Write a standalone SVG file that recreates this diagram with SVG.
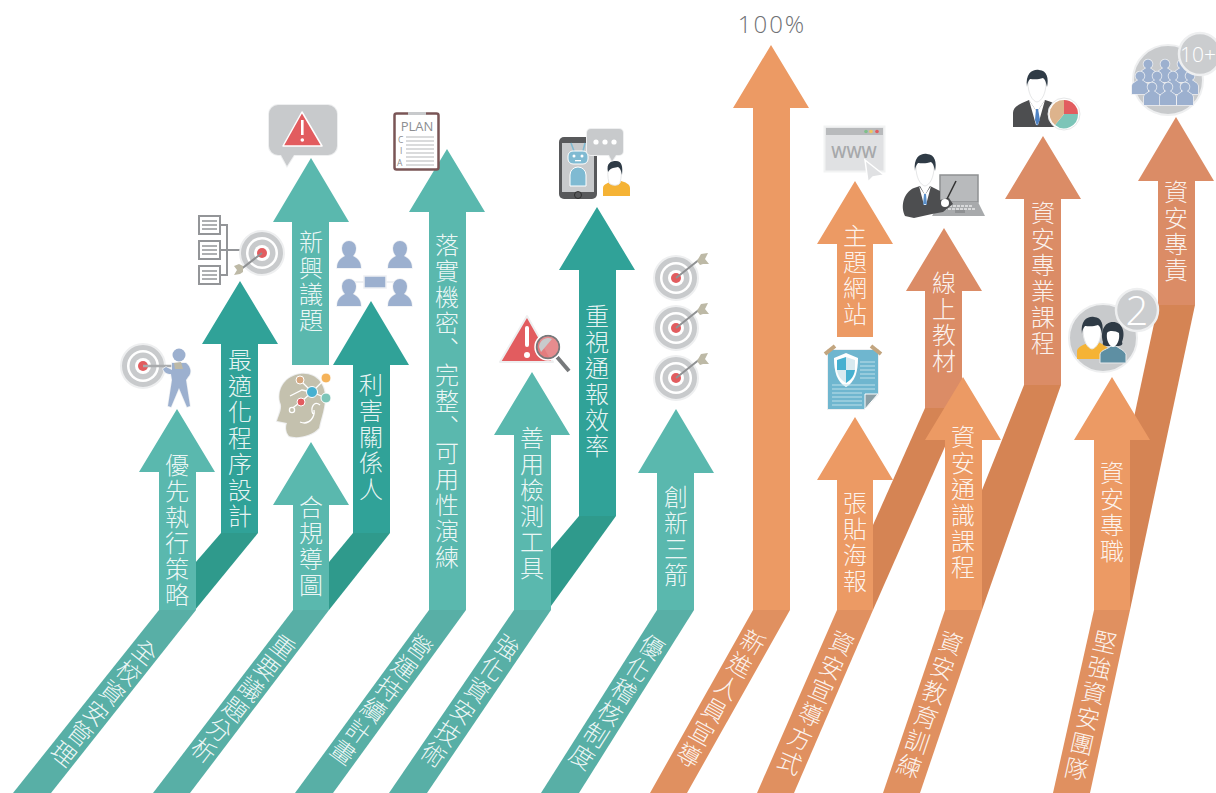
<svg xmlns="http://www.w3.org/2000/svg" width="1216" height="793" viewBox="0 0 1216 793">
<style>
.lab{font-family:"Noto Sans CJK TC","Noto Sans CJK JP",sans-serif;font-size:24px;font-weight:300;fill:#fff;fill-opacity:.9;writing-mode:vertical-rl;letter-spacing:2px}
.jp{font-family:"Noto Sans CJK JP",sans-serif}
.tl{fill:#5AB8AE}.td{fill:#30A298}.tdd{fill:#2F9A8C}.ts{fill:#58AFA6}
.ol{fill:#EC9A64}.od{fill:#DB8C66}.odd{fill:#D58454}.os{fill:#E09060}
.blue{fill:#9CB0CF;stroke:#EEF0F3;stroke-width:1.5;paint-order:stroke}
.halo{stroke:#EEEFF0;stroke-width:2;paint-order:stroke}
.badge{fill:#CBCDCF;stroke:#EEEFF0;stroke-width:2.5}
.bn{font-family:"Open Sans",sans-serif;font-weight:300;fill:#fff}
.ln{stroke:#939598;stroke-width:2;fill:none}
.gt{font-family:"Open Sans",sans-serif;fill:#8C8E91}
</style>
<defs>
<g id="t"><circle r="22" fill="#C8CACC" stroke="#EEEFF0" stroke-width="2"/><circle r="16" fill="#fff"/><circle r="13.5" fill="#C8CACC"/><circle r="8" fill="#fff"/><circle r="5" fill="#E25C5F"/></g>
<g id="dart"><line x1="0" y1="0" x2="24" y2="-19" stroke="#8F9193" stroke-width="2"/><polygon points="21,-17 25,-24 32,-25 29,-19 33,-14 27,-14 24,-13" fill="#BDB9A6"/></g>
<path id="p" class="blue" d="M-12,12C-12,4-7,2-4,0C-6-2-7-5-7-8A7,7 0 0 1 7-8C7-5 6-2 4,0C7,2 12,4 12,12Z"/>
<path id="q" class="blue" stroke-width="1" d="M-8,19V11C-8,8-4,7-2,5A4.5,4.5 0 1 1 2,5C4,7 8,8 8,11V19Z"/>
<g id="head"><path d="M-9-10C-9-22 9-22 9-10C9,0 5,8 0,9C-5,8-9,0-9-10Z" fill="#fff" stroke="#E6E7E8"/><path d="M-10-6C-12-20-4-24 2-23C10-23 12-14 10-6C9-11 8-14 6-15C1-13-5-14-7-14C-9-12-10-9-10-6Z" fill="#2F3B46"/></g>
</defs>

<g id="connectors">
<polygon class="tdd" points="221,533 258,533 195,610 195,563"/>
<polygon class="tdd" points="353,533 390,533 329,610 329,562"/>
<polygon class="tdd" points="579,516 616,516 551,606 551,549"/>
<polygon class="odd" points="925,408 962,408 873,610 873,525"/>
<polygon class="odd" points="1024,385 1061,385 982,610 982,490"/>
<polygon class="odd" points="1158,305 1195,305 1130,610 1130,436"/>
<polygon class="ts" points="159,610 196,610 51,793 13,793"/>
<polygon class="ts" points="293,610 329,610 190,793 153,793"/>
<polygon class="ts" points="429,610 466,610 333,793 295,793"/>
<polygon class="ts" points="514,610 551,610 427,793 389,793"/>
<polygon class="ts" points="657,610 694,610 579,793 541,793"/>
<polygon class="os" points="753,610 790,610 687,793 650,793"/>
<polygon class="os" points="837,610 873,610 794,793 757,793"/>
<polygon class="os" points="945,610 982,610 920,793 883,793"/>
<polygon class="os" points="1094,610 1130,610 1090,793 1053,793"/>
<text class="lab" transform="translate(145,652) rotate(38.6)" y="-12">全校資安管理</text>
<text class="lab" transform="translate(283,647) rotate(37.4)" y="-12">重要議題分析</text>
<text class="lab" transform="translate(420,647) rotate(36.2)" y="-12">營運持續計畫</text>
<text class="lab" transform="translate(507,647) rotate(34.3)" y="-12">強化資安技術</text>
<text class="lab" transform="translate(652,647) rotate(32.4)" y="-12">優化稽核制度</text>
<text class="lab" transform="translate(753,642) rotate(29.4)" y="-12">新進人員宣導</text>
<text class="lab" transform="translate(842,643) rotate(23.6)" y="-12">資安宣導方式</text>
<text class="lab" transform="translate(951,643) rotate(18.7)" y="-12">資安教育訓練</text>
<text class="lab" transform="translate(1105,642) rotate(12.6)" y="-12">堅強資安團隊</text>
</g>

<g id="n-optimize"><polygon class="td" points="240,281 278,344 258,344 258,533 221,533 221,344 202,344"/><text class="lab" x="240" y="348">最適化程序設計</text></g>
<g id="n-stakeholder"><polygon class="td" points="371,301 409,365 390,365 390,533 353,533 353,365 333,365"/><text class="lab" x="371" y="373">利害關係人</text></g>
<g id="n-notify"><polygon class="td" points="597,207 635,270 616,270 616,516 579,516 579,270 559,270"/><text class="lab" x="597" y="304">重視通報效率</text></g>
<g id="n-priority"><polygon class="tl" points="177,409 215,472 196,472 196,610 159,610 159,472 139,472"/><text class="lab" x="177" y="453">優先執行策略</text></g>
<g id="n-emerging"><polygon class="tl" points="311,158 349,222 329,222 329,365 292,365 292,222 273,222"/><text class="lab" x="311" y="230">新興議題</text></g>
<g id="n-compliance"><polygon class="tl" points="311,442 349,505 329,505 329,610 293,610 293,505 273,505"/><text class="lab" x="311" y="495">合規導圖</text></g>
<g id="n-drill"><polygon class="tl" points="447,149 485,212 466,212 466,610 429,610 429,212 409,212"/><text class="lab" x="447" y="233">落實機密<tspan class="jp">、</tspan>完整<tspan class="jp">、</tspan>可用性演練</text></g>
<g id="n-tools"><polygon class="tl" points="532,372 570,435 551,435 551,610 514,610 514,435 494,435"/><text class="lab" x="532" y="426">善用檢測工具</text></g>
<g id="n-arrows"><polygon class="tl" points="676,409 714,473 694,473 694,610 657,610 657,473 638,473"/><text class="lab" x="676" y="485">創新三箭</text></g>
<g id="n-100"><polygon class="ol" points="771,45 809,108 790,108 790,610 753,610 753,108 733,108"/><text x="772" y="33" text-anchor="middle" font-family="'Open Sans',sans-serif" font-size="24" font-weight="300" letter-spacing="2" fill="#6F7174">100%</text></g>
<g id="n-site"><polygon class="ol" points="855,181 893,244 873,244 873,337 837,337 837,244 817,244"/><text class="lab" x="855" y="224">主題網站</text></g>
<g id="n-online"><polygon class="od" points="944,228 982,291 962,291 962,408 925,408 925,291 906,291"/><text class="lab" x="944" y="271">線上教材</text></g>
<g id="n-poster"><polygon class="ol" points="855,417 893,480 873,480 873,610 837,610 837,480 817,480"/><text class="lab" x="855" y="491">張貼海報</text></g>
<g id="n-general"><polygon class="ol" points="963,377 1001,440 982,440 982,610 945,610 945,440 925,440"/><text class="lab" x="963" y="425">資安通識課程</text></g>
<g id="n-course"><polygon class="od" points="1043,136 1081,199 1061,199 1061,385 1024,385 1024,199 1005,199"/><text class="lab" x="1043" y="201">資安專業課程</text></g>
<g id="n-full"><polygon class="ol" points="1112,377 1150,440 1130,440 1130,610 1094,610 1094,440 1074,440"/><text class="lab" x="1112" y="461">資安專職</text></g>
<g id="n-duty"><polygon class="od" points="1176,117 1214,181 1195,181 1195,305 1158,305 1158,181 1138,181"/><text class="lab" x="1176" y="180">資安專責</text></g>

<g id="icon-alert-bubble">
<path class="halo" fill="#C8CACC" d="M278,105H328A9,9 0 0 1 337,114V146A9,9 0 0 1 328,155H294L287,166L281,155H278A9,9 0 0 1 269,146V114A9,9 0 0 1 278,105Z"/>
<polygon points="302,112 322,146 283,146" fill="#E25C5F" stroke="#fff" stroke-width="1.5" stroke-linejoin="round"/>
<rect x="301" y="120" width="2.6" height="15" fill="#fff"/><circle cx="302.3" cy="140" r="1.8" fill="#fff"/>
</g>

<g id="icon-plan">
<rect x="394.5" y="113.5" width="44" height="56" rx="2" fill="#fff" stroke="#7A5556" stroke-width="2.5"/>
<rect x="408" y="112" width="18" height="3" fill="#C8CACC"/>
<text x="417" y="131" text-anchor="middle" class="gt" font-size="13">PLAN</text>
<text x="398" y="142.500" class="gt" font-size="8.500">C</text><text x="400" y="154" class="gt" font-size="8.500">I</text><text x="397" y="165.500" class="gt" font-size="8.500">A</text>
<path d="M406,137H434M406,141H434M406,145H434M406,149H434M406,153H434M406,157H434M406,161H434M406,165H434" stroke="#B5B7B9" stroke-width="1" fill="none"/>
</g>

<g id="icon-docs-target">
<g fill="#fff" stroke="#939598" stroke-width="2"><rect x="199" y="216" width="21" height="18"/><rect x="199" y="241" width="21" height="18"/><rect x="199" y="266" width="21" height="18"/></g>
<path d="M202,221H217M202,225H217M202,229H217M202,246H217M202,250H217M202,254H217M202,271H217M202,275H217M202,279H217" stroke="#939598" stroke-width="1.3"/>
<path class="ln" d="M220,225H227V275H220M220,250H242"/>
<use href="#t" x="262" y="253"/>
<line x1="262" y1="253" x2="240" y2="270" stroke="#8F9193" stroke-width="2"/><polygon points="243,266 239,264 234,266 237,270 234,275 240,274 243,272" fill="#BDB9A6"/>
</g>

<g id="icon-archer">
<use href="#t" x="143" y="366"/>
<line x1="143" y1="366" x2="176" y2="366" stroke="#A9ABAD" stroke-width="2.5"/>
<circle cx="179" cy="355" r="6.5" fill="#9CB0CF"/>
<path d="M172,363L186,363C191,367 192,373 188,377L186,380L190,406L187,407L179,388L171,407L168,406L172,380L171,374C167,374 164,372 163,369L166,367L172,370Z" class="blue"/>
<polygon points="174,363 181,362 183,369 175,369" fill="#BDB9A6"/>
</g>

<g id="icon-brain">
<path class="halo" fill="#C4C1AE" d="M300,374C316,372 326,384 325,400C324,412 321,418 319,428C312,436 297,439 289,436C285,431 286,425 287,423L277,421C279,414 283,408 280,402C277,388 286,376 300,374Z"/>
<path d="M300,422C310,426 315,416 314,410M320,405C314,400 310,408 313,414M290,396L302,390L311,392M303,400L290,410" stroke="#fff" stroke-width="1.3" fill="none"/>
<circle cx="292" cy="410" r="2.600" fill="#C4C1AE" stroke="#fff" stroke-width="1.3"/>
<path d="M300,380L312,392M312,392L326,378M312,392L326,398M301,402L312,392" stroke="#fff" stroke-width="1.3"/>
<circle cx="300" cy="380" r="4" fill="#D6A77F" stroke="#fff"/>
<circle cx="326" cy="378" r="5" fill="#F5B35A" stroke="#fff"/><circle cx="312" cy="392" r="5.500" fill="#46B0D0" stroke="#fff"/>
<circle cx="326" cy="398" r="5" fill="#7CC5B8" stroke="#fff"/><circle cx="301" cy="402" r="4" fill="#E25C5F" stroke="#fff"/>
</g>

<g id="icon-people">
<use href="#p" x="349" y="256"/><use href="#p" x="400" y="256"/><use href="#p" x="349" y="294"/><use href="#p" x="400" y="294"/>
<path d="M355,282H394" stroke="#EEF0F3" stroke-width="2" fill="none"/>
<rect x="364" y="276" width="22" height="12" fill="#9CB0CF" stroke="#EEF0F3" stroke-width="1.5"/>
</g>

<g id="icon-alert-lens">
<polygon points="527,316 553,362 500,362" fill="#E25C5F" stroke="#EEEFF0" stroke-width="2" stroke-linejoin="round"/>
<rect x="525" y="326" width="4" height="21" rx="2" fill="#fff"/><circle cx="527" cy="355" r="3" fill="#fff"/>
<line x1="557" y1="357" x2="569" y2="371" stroke="#77797B" stroke-width="4"/>
<circle cx="548" cy="347" r="11.500" fill="#E37F82" fill-opacity=".9" stroke="#77797B" stroke-width="2"/>
<path d="M539,347A9,9 0 0 1 552,339L541,352Z" fill="#C8CACC"/>
<circle cx="548" cy="347" r="13" fill="none" stroke="#fff" stroke-width="1.5"/>
</g>

<g id="icon-robot">
<rect x="559" y="137" width="38" height="62" rx="5" fill="#58595B"/>
<rect x="562" y="143" width="32" height="49" fill="#C8CACC"/>
<circle cx="578" cy="195" r="3.5" fill="none" stroke="#2f2f2f"/>
<path d="M571,143L574,151M585,143L583,151" stroke="#7FBAD2" stroke-width="1.5"/>
<rect x="568" y="151" width="20" height="13" rx="5" fill="#7FBAD2" stroke="#fff"/>
<circle cx="574" cy="156" r="1.5" fill="#fff"/><circle cx="582" cy="156" r="1.5" fill="#fff"/><rect x="575" y="160" width="6" height="1.3" fill="#fff"/>
<path d="M570,186V175A8,8 0 0 1 586,175V186Z" fill="#7FBAD2" stroke="#fff"/>
<path class="halo" fill="#C8CACC" d="M591,129H619A4,4 0 0 1 623,133V151A4,4 0 0 1 619,155H616L612,161L609,155H591A4,4 0 0 1 587,151V133A4,4 0 0 1 591,129Z"/>
<circle cx="596" cy="142" r="2.600" fill="#fff"/><circle cx="605" cy="142" r="2.600" fill="#fff"/><circle cx="614" cy="142" r="2.600" fill="#fff"/>
<path d="M603,196V188C603,184 610,182 613,181L621,181C625,182 630,184 630,188V196Z" fill="#F5B335"/>
<path d="M609,183C606,170 609,164 615,163C621,163 623,170 620,183C618,186 612,186 609,183Z" fill="#fff" stroke="#E6E7E8"/>
<path d="M608,172C606,163 611,161 616,161C622,161 623,167 622,175C621,170 620,168 618,167C615,168 611,167 608,172Z" fill="#2F3B46"/>
</g>

<g id="icon-three-targets">
<use href="#t" x="676" y="278"/><use href="#dart" x="676" y="278"/>
<use href="#t" x="676" y="328"/><use href="#dart" x="676" y="328"/>
<use href="#t" x="676" y="378"/><use href="#dart" x="676" y="378"/>
</g>

<g id="icon-www">
<rect x="824.500" y="126.500" width="60" height="45" fill="#E0E1E3" stroke="#F2F3F3" stroke-width="2"/>
<rect x="826" y="128" width="57" height="7" fill="#B8BABC"/>
<circle cx="866" cy="131.500" r="1.800" fill="#7FC08B"/><circle cx="871" cy="131.500" r="1.800" fill="#EFC75E"/><circle cx="877" cy="131.500" r="1.800" fill="#E25C5F"/>
<text x="854" y="158" text-anchor="middle" font-family="'Open Sans',sans-serif" font-size="16" font-weight="600" fill="#A6A8AA">WWW</text>
<polygon points="865,160 884,175 873,177 868,182" fill="#E0E1E3" stroke="#fff" stroke-width="1.500"/>
</g>

<g id="icon-teacher">
<rect x="940" y="175" width="38" height="27" fill="#B8BABC" stroke="#8F9193" stroke-width="1.500"/>
<polygon points="940,202 978,202 985,216 932,216" fill="#A8AAAC"/>
<path d="M945,206H973M944,209H975" stroke="#D8D9DA" stroke-width="2" stroke-dasharray="3 1"/>
<rect x="955" y="210" width="10" height="3" fill="#8F9193"/>
<path d="M905,216C900,206 904,192 914,188L920,186L925,195L930,186L940,191V200L949,198L953,204L943,212L932,214L914,218Z" fill="#4D4E50"/>
<polygon points="919,186 925,195 931,186 926,205 924,205" fill="#fff"/>
<polygon points="924,194 926,194 927,205 925,204 923,205" fill="#5A8FC9"/>
<line x1="945" y1="203" x2="956" y2="181" stroke="#333" stroke-width="1.500"/>
<circle cx="945" cy="203" r="4" fill="#fff"/>
<use href="#head" x="925" y="177"/>
</g>

<g id="icon-poster">
<polygon class="halo" fill="#6FB6CF" points="828,350 878,350 878,394 864,409 828,409"/>
<polygon points="865,409 865,394 878,394" fill="#8A9FA6" stroke="#fff"/>
<path d="M825,354L835,346M881,354L871,346" stroke="#C2A57F" stroke-width="4"/>
<path d="M846,353L858,358C858,372 855,382 846,387C837,382 834,372 834,358Z" fill="#fff"/>
<path d="M846,357V370H837C837,368 837,362 837,360ZM846,370H855C854,376 851,380 846,383Z" fill="#46B0D0"/><path d="M846,357L855,360C855,364 855,367 855,370H846ZM846,370V383C841,380 838,376 837,370Z" fill="#D8EAF0"/>
<path d="M860,362H875M860,366H875M860,370H875M860,374H875M860,378H875M832,385H875M832,389H875M832,393H862M832,397H862M832,401H862M832,405H862" stroke="#BFE0EA" stroke-width="1"/>
</g>

<g id="icon-pie-person">
<path d="M1013,127V113C1013,106 1022,103 1029,100L1037,112L1045,100C1052,102 1056,104 1057,108L1057,127Z" fill="#4D4E50"/>
<polygon points="1029,100 1037,112 1045,100 1038,125 1036,125" fill="#fff"/>
<polygon points="1036,109 1038,109 1040,120 1037,126 1035,120" fill="#4F83C4"/>
<use href="#head" x="1037" y="93"/>
<circle cx="1064" cy="114" r="16" fill="#fff" stroke="#E6E7E8"/>
<path d="M1064,114V100A14,14 0 0 1 1078,114Z" fill="#E25C5F"/>
<path d="M1064,114H1078A14,14 0 0 1 1055,125Z" fill="#7CC5B8"/>
<path d="M1064,114L1055,125A14,14 0 0 1 1064,100Z" fill="#DDB38C"/>
</g>

<g id="icon-crowd">
<circle cx="1168" cy="80" r="35" fill="#C8CACC" stroke="#EEEFF0" stroke-width="2"/>
<use href="#q" x="1148" y="63"/><use href="#q" x="1165" y="63"/><use href="#q" x="1182" y="63"/>
<use href="#q" x="1140" y="75"/><use href="#q" x="1157" y="75"/><use href="#q" x="1173" y="75"/><use href="#q" x="1190" y="75"/>
<use href="#q" x="1152" y="86"/><use href="#q" x="1168" y="86"/><use href="#q" x="1185" y="86"/>
<circle class="badge" cx="1200" cy="54" r="21"/>
<text class="bn" x="1180" y="62" font-size="21">10+</text>
</g>

<g id="icon-couple">
<circle cx="1103" cy="338" r="34" fill="#C8CACC" stroke="#EEEFF0" stroke-width="2"/>
<path d="M1077,359V351C1078,346 1084,345 1090,342H1098C1104,345 1108,347 1110,351V359Z" fill="#F5B335"/>
<use href="#head" x="1092" y="340"/>
<path d="M1100,363V354C1101,350 1108,349 1111,346H1116C1120,349 1124,350 1126,354V363Z" fill="#5E8FA3" stroke="#E8E9EA"/>
<path d="M1103,342C1100,332 1104,322 1113,322C1122,322 1126,332 1122,342C1124,346 1118,346 1118,346H1108C1104,346 1102,345 1103,342Z" fill="#2F3B46"/>
<path d="M1107,333C1109,330 1116,331 1119,333C1120,340 1117,346 1113,347C1109,346 1106,340 1107,333Z" fill="#fff"/>
<circle class="badge" cx="1137" cy="310" r="21"/>
<text class="bn" x="1137" y="325" font-size="40" text-anchor="middle">2</text>
</g>
</svg>
